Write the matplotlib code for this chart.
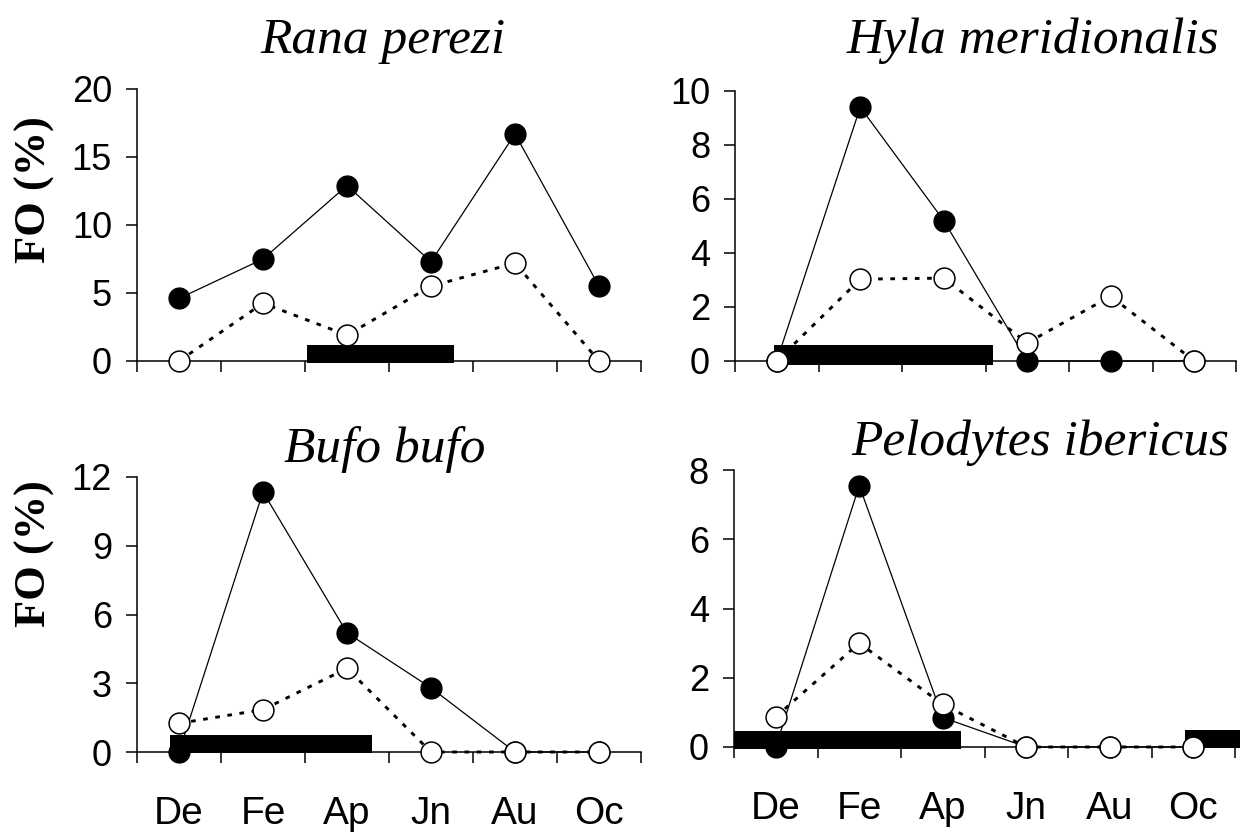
import numpy as np
import matplotlib
matplotlib.use("Agg")
from matplotlib import pyplot as plt

months = ["De", "Fe", "Ap", "Jn", "Au", "Oc"]

# FO (%) per species: filled = first series, open = second series
rana_filled = [4.6, 7.5, 12.9, 7.3, 16.7, 5.5]
rana_open = [0.0, 4.25, 1.9, 5.5, 7.2, 0.0]
hyla_filled = [0.0, 9.4, 5.2, 0.0, 0.0, 0.0]
hyla_open = [0.0, 3.03, 3.07, 0.67, 2.4, 0.0]
bufo_filled = [0.0, 11.35, 5.2, 2.8, 0.0, 0.0]
bufo_open = [1.25, 1.85, 3.65, 0.0, 0.0, 0.0]
pelo_filled = [0.0, 7.55, 0.85, 0.0, 0.0, 0.0]
pelo_open = [0.87, 3.0, 1.23, 0.0, 0.0, 0.0]

# black bars (start, end, low, high) in month units
rana_bars = [(2.52, 4.27, -0.15, 1.15)]
hyla_bars = [(0.97, 3.59, -0.15, 0.58)]
bufo_bars = [(0.89, 3.3, -0.05, 0.75)]
pelo_bars = [(0.5, 3.22, -0.06, 0.47), (5.9, 6.6, -0.03, 0.5)]

ymaxs = [20, 10, 12, 8]
yticks = [np.arange(0, 21, 5), np.arange(0, 11, 2), np.arange(0, 13, 3), np.arange(0, 9, 2)]
titles = ["Rana perezi", "Hyla meridionalis", "Bufo bufo", "Pelodytes ibericus"]

W, H = 1240, 832
fig = plt.figure(figsize=(W / 100, H / 100), dpi=100)

# axes boxes in pixels: left, right, top, bottom
boxes = [(137, 641, 89, 361), (735, 1236, 91, 361),
         (137, 641, 477, 752), (734, 1235, 470, 747)]

series = [(rana_filled, rana_open, rana_bars),
          (hyla_filled, hyla_open, hyla_bars),
          (bufo_filled, bufo_open, bufo_bars),
          (pelo_filled, pelo_open, pelo_bars)]

title_pos = [(383, 53), (1033, 53), (385, 462), (1040, 455)]

x = np.arange(1, len(months) + 1)

for i, (box, (filled, opn, bars)) in enumerate(zip(boxes, series)):
	l, r, t, b = box
	ax = fig.add_axes([l / W, (H - b) / H, (r - l) / W, (b - t) / H])

	for s, e, lo, hi in bars:
		ax.bar(s, hi - lo, width=e - s, bottom=lo, align="edge", color="k",
			   zorder=3, clip_on=False)

	ax.plot(x, filled, "-", color="k", lw=0.9, zorder=2, clip_on=False)
	ax.plot(x, opn, color="k", lw=2.1, ls=(0, (1.6, 2.6)), zorder=2, clip_on=False)
	ax.plot(x, filled, "o", ms=15, mfc="k", mec="k", zorder=4, clip_on=False)
	ax.plot(x, opn, "o", ms=15, mfc="white", mec="k", mew=1.1, zorder=5, clip_on=False)

	ax.set_xlim(0.5, 6.5)
	ax.set_ylim(0, ymaxs[i])
	ax.set_yticks(yticks[i])
	ax.set_xticks(np.arange(0.5, 7, 1))
	ax.set_xticklabels([])
	if i >= 2:
		ax.set_xticks(x, minor=True)
		ax.set_xticklabels(months, minor=True)
	ax.tick_params(axis="x", which="minor", length=0, pad=32, labelsize=28)
	ax.tick_params(axis="both", which="major", direction="out", length=8, width=1.1,
				   labelsize=26, pad=10)
	for lab in ax.get_xticklabels(minor=True) + ax.get_yticklabels():
		lab.set_family("Liberation Sans")

	for side in ["top", "right"]:
		ax.spines[side].set_visible(False)
	for side in ["left", "bottom"]:
		ax.spines[side].set_linewidth(1.1)

	tx, ty = title_pos[i]
	fig.text(tx / W, (H - ty) / H, titles[i], ha="center", va="baseline",
			 fontsize=37, style="italic", family="Liberation Serif")

fig.text(35 / W, (H - 190) / H, "FO (%)", rotation=90, ha="center", va="center",
		 fontsize=32, weight="bold", family="Liberation Serif")
fig.text(35 / W, (H - 554) / H, "FO (%)", rotation=90, ha="center", va="center",
		 fontsize=32, weight="bold", family="Liberation Serif")

fig.savefig("out.png", dpi=100)
